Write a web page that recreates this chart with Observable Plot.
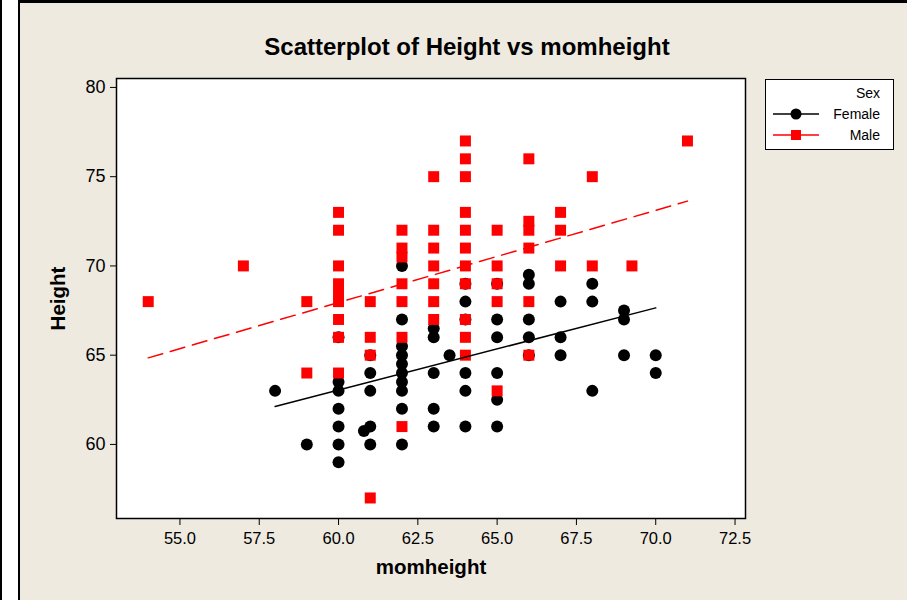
<!DOCTYPE html>
<html>
<head>
<meta charset="utf-8">
<script src="https://cdn.jsdelivr.net/npm/d3@7"></script>
<script src="https://cdn.jsdelivr.net/npm/@observablehq/plot@0.6"></script>
<style>
  html, body { margin: 0; padding: 0; background: #ffffff; width: 907px; height: 600px; overflow: hidden; }
  #leftline { position: absolute; left: 0; top: 0; width: 2px; height: 600px; background: #000; }
  #panel { position: absolute; left: 18px; top: 0; width: 889px; height: 600px; box-sizing: border-box;
           background: #EEEAE0; border-left: 2px solid #000; border-top: 3px solid #000; }
  #chart { position: absolute; left: 0; top: 0; }
  #legend { position: absolute; left: 765px; top: 79px; }
</style>
</head>
<body>
<div id="leftline"></div>
<div id="panel"></div>
<div id="chart"></div>
<div id="legend"></div>
<script>
// ---- data ----
const femaleMom    = [58, 59, 60, 60, 60, 60, 60, 60, 60, 60.8, 61, 61, 61, 61, 61,
                      62, 62, 62, 62, 62, 62, 62, 62, 62, 62, 63, 63, 63, 63, 63, 63.5,
                      64, 64, 64, 64, 64, 64, 65, 65, 65, 65, 65, 65,
                      66, 66, 66, 66, 66, 67, 67, 67, 68, 68, 68, 69, 69, 69, 70, 70];
const femaleHeight = [63, 60, 66, 63.5, 63, 62, 61, 60, 59, 60.75, 65, 64, 63, 61, 60,
                      70, 67, 65.5, 65, 64.5, 64, 63.5, 63, 62, 60, 66.5, 66, 64, 62, 61, 65,
                      69, 68, 67, 64, 63, 61, 69, 67, 66, 64, 62.5, 61,
                      69.5, 69, 67, 66, 65, 68, 66, 65, 69, 68, 63, 67.5, 67, 65, 65, 64];

const maleMom    = [54, 57, 59, 59, 60, 60, 60, 60, 60, 60, 60, 60, 60, 61, 61, 61, 61,
                    62, 62, 62, 62, 62, 62, 62, 63, 63, 63, 63, 63, 63, 63,
                    64, 64, 64, 64, 64, 64, 64, 64, 64, 64, 64, 65, 65, 65, 65, 65,
                    66, 66, 66, 66, 66, 66, 67, 67, 67, 68, 68, 69.25, 71];
const maleHeight = [68, 70, 68, 64, 73, 72, 70, 69, 68.5, 68, 67, 66, 64, 68, 66, 65, 57,
                    72, 71, 70.5, 69, 68, 66, 61, 75, 72, 71, 70, 69, 68, 67,
                    77, 76, 75, 73, 72, 71, 70, 69, 67, 66, 65, 72, 70, 69, 68, 63,
                    76, 72.5, 72, 71, 68, 65, 73, 72, 70, 75, 70, 70, 77];

// fitted regression lines (end points)
const femaleFitMom = [58, 70];
const femaleFitHeight = [62.13, 67.65];
const maleFitMom = [54, 71];
const maleFitHeight = [64.85, 73.63];

const xTicks = [55, 57.5, 60, 62.5, 65, 67.5, 70, 72.5];
const yTicks = [60, 65, 70, 75, 80];
const legendLabels = ["Female", "Male"];
const titleText = "Scatterplot of Height vs momheight";

// ---- tables ----
const female = femaleMom.map((x, i) => ({x, y: femaleHeight[i]}));
const male = maleMom.map((x, i) => ({x, y: maleHeight[i]}));
const femaleFit = femaleFitMom.map((x, i) => ({x, y: femaleFitHeight[i]}));
const maleFit = maleFitMom.map((x, i) => ({x, y: maleFitHeight[i]}));

const font = "'Liberation Sans', Arial, sans-serif";

const chart = Plot.plot({
  width: 907,
  height: 600,
  marginLeft: 116,
  marginRight: 162,
  marginTop: 78,
  marginBottom: 82,
  style: {background: "transparent", fontFamily: font, fontSize: "16px", color: "#000"},
  x: {domain: [53.0, 72.83]},
  y: {domain: [55.85, 80.5]},
  marks: [
    Plot.frame({fill: "white"}),
    Plot.axisX({ticks: xTicks, tickFormat: d3.format(".1f"), tickSize: 7, tickPadding: 7, label: null, fontSize: 16.5}),
    Plot.axisY({ticks: yTicks, tickSize: 6, tickPadding: 5, label: null, fontSize: 18}),
    Plot.dot(female, {x: "x", y: "y", r: 6, symbol: "circle", fill: "black"}),
    Plot.dot(male, {x: "x", y: "y", r: 6.2, symbol: "square", fill: "#FF0000"}),
    Plot.line(femaleFit, {x: "x", y: "y", stroke: "black", strokeWidth: 1.5}),
    Plot.line(maleFit, {x: "x", y: "y", stroke: "#FF0000", strokeWidth: 1.5, strokeDasharray: "15,8"}),
    Plot.frame({stroke: "black", strokeWidth: 1.5}),
    Plot.text([titleText], {text: d => d, frameAnchor: "top", textAnchor: "middle", lineAnchor: "middle",
      dx: 36, dy: -31, fontSize: 24, fontWeight: "bold"}),
    Plot.text(["momheight"], {text: d => d, frameAnchor: "bottom", textAnchor: "middle", lineAnchor: "middle",
      dy: 49, fontSize: 20.5, fontWeight: "bold"}),
    Plot.text(["Height"], {text: d => d, frameAnchor: "left", textAnchor: "middle", lineAnchor: "middle",
      dx: -58, rotate: -90, fontSize: 20.5, fontWeight: "bold"})
  ]
});
document.getElementById("chart").append(chart);

// ---- legend ----
const lw = 128, lh = 70;
const lg = d3.select("#legend").append("svg")
  .attr("width", lw + 2).attr("height", lh + 2)
  .style("font-family", font);
lg.append("rect").attr("x", 0.5).attr("y", 0.5).attr("width", lw).attr("height", lh)
  .attr("fill", "white").attr("stroke", "black").attr("stroke-width", 1);
lg.append("text").attr("x", 115).attr("y", 19).attr("text-anchor", "end")
  .attr("font-size", 14).text("Sex");
const colors = ["black", "#FF0000"];
legendLabels.forEach((lab, i) => {
  const cy = 35 + i * 21;
  lg.append("line").attr("x1", 8).attr("x2", 54).attr("y1", cy).attr("y2", cy)
    .attr("stroke", colors[i]).attr("stroke-width", 1.5);
  if (i === 0) {
    lg.append("circle").attr("cx", 31).attr("cy", cy).attr("r", 5.5).attr("fill", colors[i]);
  } else {
    lg.append("rect").attr("x", 26).attr("y", cy - 5).attr("width", 10).attr("height", 10).attr("fill", colors[i]);
  }
  lg.append("text").attr("x", 115).attr("y", cy + 5).attr("text-anchor", "end")
    .attr("font-size", 14).text(lab);
});
</script>
</body>
</html>
